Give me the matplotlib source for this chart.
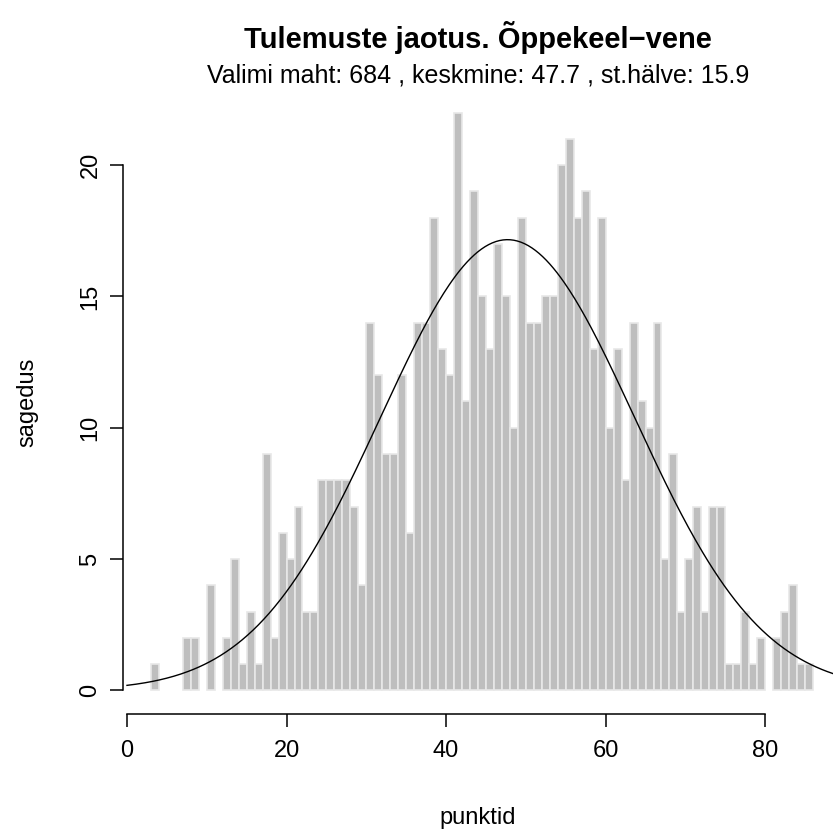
import numpy as np
import matplotlib
matplotlib.use("Agg")
import matplotlib.pyplot as plt

plt.rcParams['font.family'] = ['Liberation Sans', 'DejaVu Sans']

# bin left edges (score) and counts
scores = list(range(0, 86))
counts = [0, 0, 0, 1, 0, 0, 0, 2, 2, 0,
          4, 0, 2, 5, 1, 3, 1, 9, 2, 6,
          5, 7, 3, 3, 8, 8, 8, 8, 7, 4,
          14, 12, 9, 9, 12, 6, 14, 14, 18, 13,
          12, 22, 11, 19, 15, 13, 17, 15, 10, 18,
          14, 14, 15, 15, 20, 21, 18, 19, 13, 18,
          10, 13, 8, 14, 11, 10, 14, 5, 9, 3,
          5, 7, 3, 7, 7, 1, 1, 3, 1, 2,
          0, 2, 3, 4, 1, 1]

n_total = 684
mean_val = 47.7
sd_val = 15.9

title = "Tulemuste jaotus. Õppekeel\u2212vene"
subtitle = "Valimi maht: 684 , keskmine: 47.7 , st.hälve: 15.9"
xlabel = "punktid"
ylabel = "sagedus"
xticks = [0, 20, 40, 60, 80]
yticks = [0, 5, 10, 15, 20]

fig = plt.figure(figsize=(8.33, 8.32), dpi=100)
ax = fig.add_axes([123/833, (832-714)/832, 1 - 123/833, (714-89.5)/832])

x = np.array(scores, dtype=float)
c = np.array(counts, dtype=float)
mask = c > 0
ax.bar(x[mask] + 0.5, c[mask], width=1.0, color='#BEBEBE',
       edgecolor='#E8E8E8', linewidth=1.2, zorder=1)

xs = np.linspace(0, 90, 400)
ys = n_total * np.exp(-0.5 * ((xs - mean_val) / sd_val) ** 2) / (sd_val * np.sqrt(2 * np.pi))
ax.plot(xs, ys, color='black', linewidth=1.0, zorder=2)

ax.set_xlim(-0.5, 88.5)
ax.set_ylim(-0.9, 22.88)

for s in ['top', 'right']:
    ax.spines[s].set_visible(False)
ax.spines['bottom'].set_bounds(0, 80)
ax.spines['left'].set_bounds(0, 20)
ax.spines['bottom'].set_linewidth(1.1)
ax.spines['left'].set_linewidth(1.1)

ax.set_xticks(xticks)
ax.set_yticks(yticks)
ax.set_xticklabels([str(t) for t in xticks], fontsize=17)
ax.set_yticklabels([str(t) for t in yticks], fontsize=17, rotation=90, va='center')
ax.tick_params(axis='both', length=9.5, width=1.1, direction='out', colors='black')
ax.tick_params(axis='y', pad=6)
ax.tick_params(axis='x', pad=9)

fig.text(478/833, 1 - 37/832, title, ha='center', va='center', fontsize=21, fontweight='bold')
fig.text(478/833, 1 - 75/832, subtitle, ha='center', va='center', fontsize=18)
fig.text(478/833, 1 - 818/832, xlabel, ha='center', va='center', fontsize=17)
fig.text(27/833, 1 - 402/832, ylabel, ha='center', va='center', fontsize=17, rotation=90)

fig.savefig("out.png", dpi=100)
